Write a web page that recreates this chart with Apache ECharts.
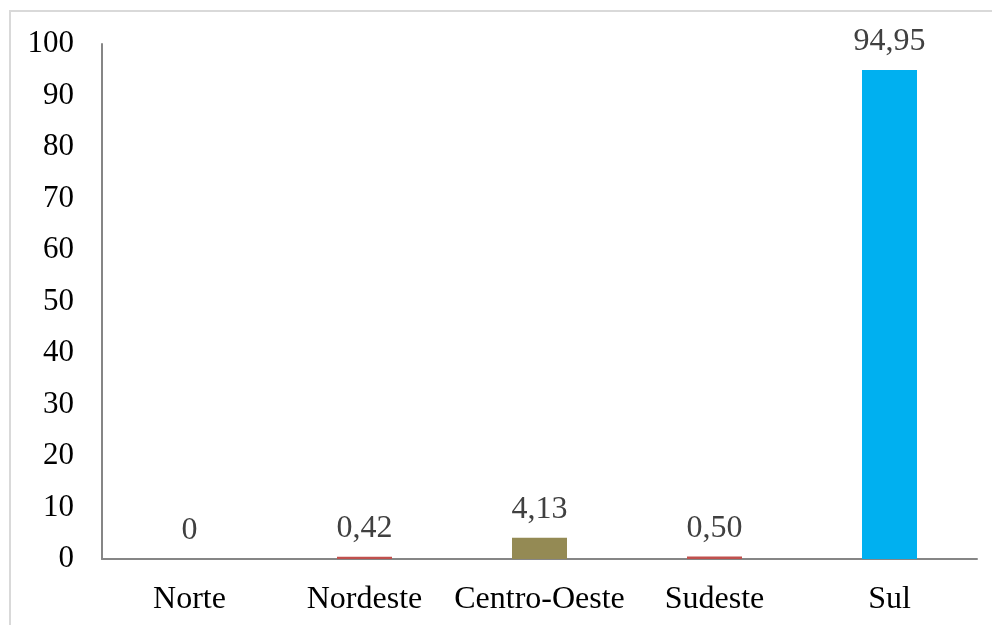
<!DOCTYPE html>
<html>
<head>
<meta charset="utf-8">
<script src="https://cdn.jsdelivr.net/npm/echarts@6/dist/echarts.min.js"></script>
<style>
  html, body { margin: 0; padding: 0; background: #fff; }
  #chart { width: 992px; height: 625px; }
</style>
</head>
<body>
<div id="chart"></div>
<script>
// Regions and their shares (%)
const regions = ['Norte', 'Nordeste', 'Centro-Oeste', 'Sudeste', 'Sul'];
const shares = [0, 0.42, 4.13, 0.50, 94.95];
const barColors = ['#C0504D', '#C0504D', '#948A54', '#C0504D', '#00B0F0'];

const font = '"Liberation Serif", "Times New Roman", serif';

function fmt(v) {
  return v === 0 ? '0' : v.toFixed(2).replace('.', ',');
}

const chart = echarts.init(document.getElementById('chart'), null, { renderer: 'canvas' });
chart.setOption({
  animation: false,
  backgroundColor: '#ffffff',
  graphic: [
    { type: 'rect', shape: { x: 9, y: 10, width: 990, height: 2 }, style: { fill: '#d9d9d9' }, silent: true },
    { type: 'rect', shape: { x: 9, y: 10, width: 2, height: 620 }, style: { fill: '#d9d9d9' }, silent: true }
  ],
  grid: { left: 102, right: 15, top: 44, bottom: 66 },
  xAxis: {
    type: 'category',
    data: regions,
    axisLine: { lineStyle: { color: '#868686', width: 2 } },
    axisTick: { show: false },
    axisLabel: { color: '#000', fontFamily: font, fontSize: 32, margin: 25, interval: 0 }
  },
  yAxis: {
    type: 'value',
    min: 0, max: 100, interval: 10,
    splitLine: { show: false },
    axisLine: { show: true, lineStyle: { color: '#868686', width: 2 } },
    axisTick: { show: false },
    axisLabel: { color: '#000', fontFamily: font, fontSize: 31, margin: 28 }
  },
  series: [{
    type: 'bar',
    data: shares.map((v, i) => ({ value: v, itemStyle: { color: barColors[i] } })),
    barWidth: 55,
    label: {
      show: true,
      position: 'top',
      distance: 12,
      color: '#404040',
      fontFamily: font,
      fontSize: 32,
      formatter: p => fmt(p.value)
    }
  }]
});
</script>
</body>
</html>
